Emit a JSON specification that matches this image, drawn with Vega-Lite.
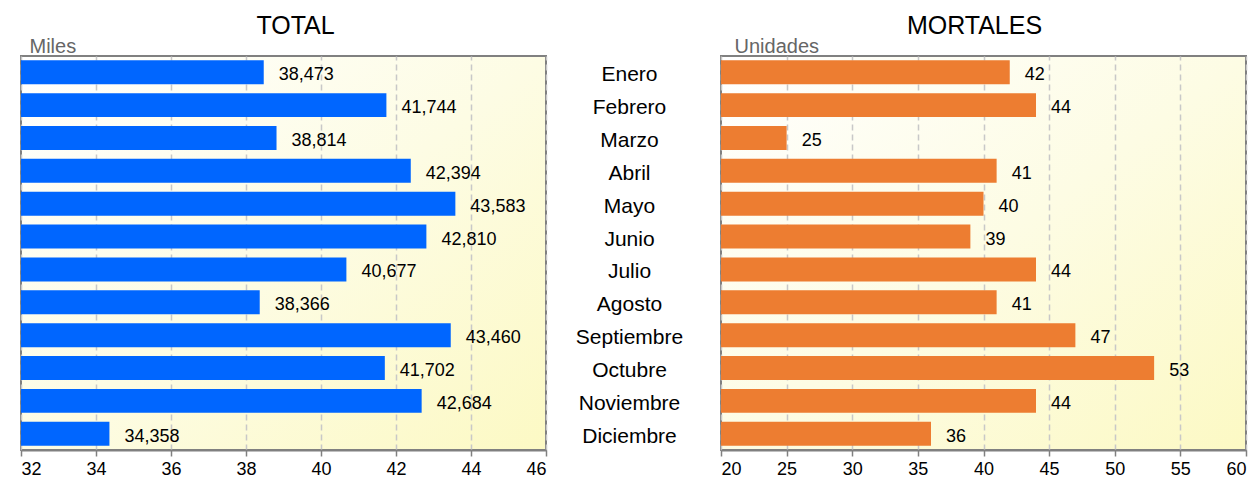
{
  "$schema": "https://vega.github.io/schema/vega-lite/v6.json",
  "autosize": "pad",
  "padding": {"left": 19, "top": 13, "right": 5, "bottom": 5},
  "bounds": "flush",
  "spacing": 175,
  "config": {
    "font": "Liberation Sans",
    "view": {
      "stroke": "#808080",
      "strokeWidth": 2,
      "fill": {
        "gradient": "linear", "x1": 0, "y1": 0, "x2": 1, "y2": 1,
        "stops": [{"offset": 0, "color": "#ffffff"}, {"offset": 0.5, "color": "#fdfce4"}, {"offset": 1, "color": "#fcf9c4"}]
      }
    },
    "axis": {"labelFont": "Liberation Sans", "titleFont": "Liberation Sans"},
    "title": {"font": "Liberation Sans", "fontSize": 25, "fontWeight": "normal", "color": "#000000", "offset": -3}
  },
  "datasets": {
    "d": [
      {"mes": "Enero", "total": 38.473, "totalLbl": "38,473", "mortales": 42},
      {"mes": "Febrero", "total": 41.744, "totalLbl": "41,744", "mortales": 44},
      {"mes": "Marzo", "total": 38.814, "totalLbl": "38,814", "mortales": 25},
      {"mes": "Abril", "total": 42.394, "totalLbl": "42,394", "mortales": 41},
      {"mes": "Mayo", "total": 43.583, "totalLbl": "43,583", "mortales": 40},
      {"mes": "Junio", "total": 42.810, "totalLbl": "42,810", "mortales": 39},
      {"mes": "Julio", "total": 40.677, "totalLbl": "40,677", "mortales": 44},
      {"mes": "Agosto", "total": 38.366, "totalLbl": "38,366", "mortales": 41},
      {"mes": "Septiembre", "total": 43.460, "totalLbl": "43,460", "mortales": 47},
      {"mes": "Octubre", "total": 41.702, "totalLbl": "41,702", "mortales": 53},
      {"mes": "Noviembre", "total": 42.684, "totalLbl": "42,684", "mortales": 44},
      {"mes": "Diciembre", "total": 34.358, "totalLbl": "34,358", "mortales": 36}
    ]
  },
  "hconcat": [
    {
      "width": 525,
      "height": 394,
      "data": {"name": "d"},
      "title": {"text": "TOTAL", "dx": 12},
      "encoding": {
        "y": {
          "field": "mes", "type": "nominal", "sort": null,
          "scale": {"paddingInner": 0.27, "paddingOuter": 0.13},
          "axis": {
            "title": "Miles", "labels": false, "ticks": false, "domain": false,
            "titleAngle": 0, "titleAlign": "left", "titleBaseline": "alphabetic",
            "titleX": 8, "titleY": -4, "titleFontSize": 20, "titleFontWeight": "normal", "titleColor": "#666666"
          }
        }
      },
      "layer": [
        {
          "mark": {"type": "bar", "color": "#0066ff", "clip": true},
          "encoding": {
            "x": {
              "field": "total", "type": "quantitative",
              "scale": {"domain": [32, 46], "zero": false, "nice": false},
              "axis": {
                "title": null, "values": [32, 34, 36, 38, 40, 42, 44, 46],
                "grid": true, "gridDash": [6, 4], "gridColor": "#c8c8c8", "gridWidth": 1.5,
                "domainColor": "#808080", "domainWidth": 2, "tickColor": "#808080", "tickSize": 6, "tickWidth": 1.5,
                "labelFontSize": 18, "labelColor": "#000000", "labelPadding": 4
              }
            }
          }
        },
        {
          "mark": {"type": "text", "align": "left", "dx": 15, "dy": 3, "fontSize": 18, "color": "#000000"},
          "encoding": {
            "x": {"field": "total", "type": "quantitative"},
            "text": {"field": "totalLbl"}
          }
        }
      ]
    },
    {
      "width": 525,
      "height": 394,
      "data": {"name": "d"},
      "title": {"text": "MORTALES", "dx": -9},
      "encoding": {
        "y": {
          "field": "mes", "type": "nominal", "sort": null,
          "scale": {"paddingInner": 0.27, "paddingOuter": 0.13},
          "axis": {
            "title": "Unidades", "ticks": false, "tickSize": 0, "domain": false,
            "labelAlign": "center", "labelPadding": 92, "labelOffset": 3, "labelFontSize": 21, "labelColor": "#000000",
            "titleAngle": 0, "titleAlign": "left", "titleBaseline": "alphabetic",
            "titleX": 13, "titleY": -4, "titleFontSize": 20, "titleFontWeight": "normal", "titleColor": "#666666"
          }
        }
      },
      "layer": [
        {
          "mark": {"type": "bar", "color": "#ed7d31", "clip": true},
          "encoding": {
            "x": {
              "field": "mortales", "type": "quantitative",
              "scale": {"domain": [20, 60], "zero": false, "nice": false},
              "axis": {
                "title": null, "values": [20, 25, 30, 35, 40, 45, 50, 55, 60],
                "grid": true, "gridDash": [6, 4], "gridColor": "#c8c8c8", "gridWidth": 1.5,
                "domainColor": "#808080", "domainWidth": 2, "tickColor": "#808080", "tickSize": 6, "tickWidth": 1.5,
                "labelFontSize": 18, "labelColor": "#000000", "labelPadding": 4
              }
            }
          }
        },
        {
          "mark": {"type": "text", "align": "left", "dx": 15, "dy": 3, "fontSize": 18, "color": "#000000"},
          "encoding": {
            "x": {"field": "mortales", "type": "quantitative"},
            "text": {"field": "mortales", "type": "quantitative"}
          }
        }
      ]
    }
  ]
}
